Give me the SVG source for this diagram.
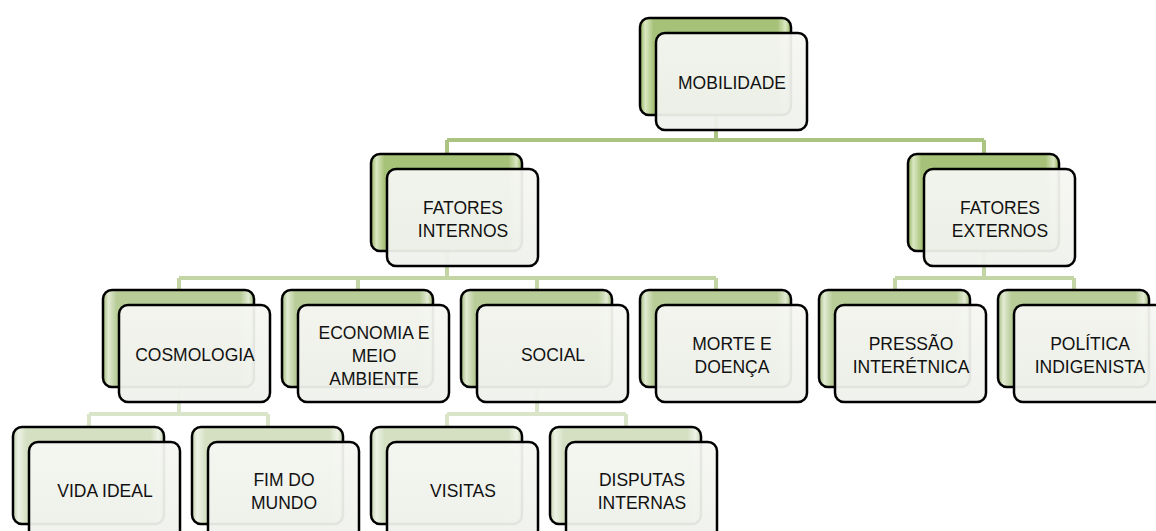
<svg xmlns="http://www.w3.org/2000/svg" width="1156" height="531" viewBox="0 0 1156 531">
  <defs>
    <linearGradient id="gA" x1="0" y1="0" x2="1" y2="0">
      <stop offset="0" stop-color="#8fae55"/>
      <stop offset="0.035" stop-color="#dbe8c3"/>
      <stop offset="0.09" stop-color="#a6c178"/>
      <stop offset="0.91" stop-color="#a6c178"/>
      <stop offset="0.965" stop-color="#dbe8c3"/>
      <stop offset="1" stop-color="#8fae55"/>
    </linearGradient>
    <linearGradient id="gB" x1="0" y1="0" x2="1" y2="0">
      <stop offset="0" stop-color="#a0b978"/>
      <stop offset="0.035" stop-color="#e2ebd3"/>
      <stop offset="0.09" stop-color="#b8cc98"/>
      <stop offset="0.91" stop-color="#b8cc98"/>
      <stop offset="0.965" stop-color="#e2ebd3"/>
      <stop offset="1" stop-color="#a0b978"/>
    </linearGradient>
    <linearGradient id="gC" x1="0" y1="0" x2="1" y2="0">
      <stop offset="0" stop-color="#c2d1ab"/>
      <stop offset="0.035" stop-color="#eef3e6"/>
      <stop offset="0.09" stop-color="#d5e0c3"/>
      <stop offset="0.91" stop-color="#d5e0c3"/>
      <stop offset="0.965" stop-color="#eef3e6"/>
      <stop offset="1" stop-color="#c2d1ab"/>
    </linearGradient>
    <linearGradient id="gF" x1="0" y1="0" x2="0" y2="1">
      <stop offset="0" stop-color="#f6f7f3"/>
      <stop offset="1" stop-color="#eff1ec"/>
    </linearGradient>
  </defs>
  <style>
    .back { stroke: #000; stroke-width: 2.5; }
    .l1 { fill: url(#gA); }
    .l3 { fill: url(#gB); }
    .l4 { fill: url(#gC); }
    .front { fill: url(#gF); fill-opacity: 0.94; stroke: #000; stroke-width: 2.5; }
    .c1 { stroke: #abc482; stroke-width: 4; fill: none; }
    .c2 { stroke: #c3d5a5; stroke-width: 4; fill: none; }
    .c3 { stroke: #d9e4c8; stroke-width: 4; fill: none; }
    text { font-family: "Liberation Sans", Arial, sans-serif; font-size: 17.5px; fill: #111; text-anchor: middle; }
  </style>

  <g id="connectors">
    <path class="c1" d="M716 66 V140 M447 140 H984 M447 140 V160 M984 140 V160"/>
    <path class="c2" d="M447 202 V278 M179 278 H716 M179 278 V296 M358 278 V296 M537 278 V296 M716 278 V296"/>
    <path class="c2" d="M984 202 V278 M895 278 H1074 M895 278 V296 M1074 278 V296"/>
    <path class="c3" d="M179 338 V414 M89 414 H268 M89 414 V432 M268 414 V432"/>
    <path class="c3" d="M537 338 V414 M447 414 H626 M447 414 V432 M626 414 V432"/>
  </g>

  <g id="node-mobilidade">
    <rect class="back l1" x="640" y="18" width="151" height="97" rx="9"/>
    <rect class="front" x="656" y="33" width="151" height="97" rx="9"/>
    <text x="732" y="89">MOBILIDADE</text>
  </g>

  <g id="node-fatores-internos">
    <rect class="back l1" x="371" y="154" width="151" height="97" rx="9"/>
    <rect class="front" x="387" y="169" width="151" height="97" rx="9"/>
    <text x="463" y="214">FATORES</text>
    <text x="463" y="237">INTERNOS</text>
  </g>

  <g id="node-fatores-externos">
    <rect class="back l1" x="908" y="154" width="151" height="97" rx="9"/>
    <rect class="front" x="924" y="169" width="151" height="97" rx="9"/>
    <text x="1000" y="214">FATORES</text>
    <text x="1000" y="237">EXTERNOS</text>
  </g>

  <g id="node-cosmologia">
    <rect class="back l3" x="103" y="290" width="151" height="97" rx="9"/>
    <rect class="front" x="119" y="305" width="151" height="97" rx="9"/>
    <text x="195" y="361">COSMOLOGIA</text>
  </g>

  <g id="node-economia">
    <rect class="back l3" x="282" y="290" width="151" height="97" rx="9"/>
    <rect class="front" x="298" y="305" width="151" height="97" rx="9"/>
    <text x="374" y="339">ECONOMIA E</text>
    <text x="374" y="362">MEIO</text>
    <text x="374" y="385">AMBIENTE</text>
  </g>

  <g id="node-social">
    <rect class="back l3" x="461" y="290" width="151" height="97" rx="9"/>
    <rect class="front" x="477" y="305" width="151" height="97" rx="9"/>
    <text x="553" y="361">SOCIAL</text>
  </g>

  <g id="node-morte">
    <rect class="back l3" x="640" y="290" width="151" height="97" rx="9"/>
    <rect class="front" x="656" y="305" width="151" height="97" rx="9"/>
    <text x="732" y="350">MORTE E</text>
    <text x="732" y="373">DOENÇA</text>
  </g>

  <g id="node-pressao">
    <rect class="back l3" x="819" y="290" width="151" height="97" rx="9"/>
    <rect class="front" x="835" y="305" width="151" height="97" rx="9"/>
    <text x="911" y="350">PRESSÃO</text>
    <text x="911" y="373">INTERÉTNICA</text>
  </g>

  <g id="node-politica">
    <rect class="back l3" x="998" y="290" width="151" height="97" rx="9"/>
    <rect class="front" x="1014" y="305" width="151" height="97" rx="9"/>
    <text x="1090" y="350">POLÍTICA</text>
    <text x="1090" y="373">INDIGENISTA</text>
  </g>

  <g id="node-vida-ideal">
    <rect class="back l4" x="13" y="427" width="151" height="97" rx="9"/>
    <rect class="front" x="29" y="442" width="151" height="97" rx="9"/>
    <text x="105" y="497">VIDA IDEAL</text>
  </g>

  <g id="node-fim-do-mundo">
    <rect class="back l4" x="192" y="427" width="151" height="97" rx="9"/>
    <rect class="front" x="208" y="442" width="151" height="97" rx="9"/>
    <text x="284" y="486">FIM DO</text>
    <text x="284" y="509">MUNDO</text>
  </g>

  <g id="node-visitas">
    <rect class="back l4" x="371" y="427" width="151" height="97" rx="9"/>
    <rect class="front" x="387" y="442" width="151" height="97" rx="9"/>
    <text x="463" y="497">VISITAS</text>
  </g>

  <g id="node-disputas">
    <rect class="back l4" x="550" y="427" width="151" height="97" rx="9"/>
    <rect class="front" x="566" y="442" width="151" height="97" rx="9"/>
    <text x="642" y="486">DISPUTAS</text>
    <text x="642" y="509">INTERNAS</text>
  </g>
</svg>
